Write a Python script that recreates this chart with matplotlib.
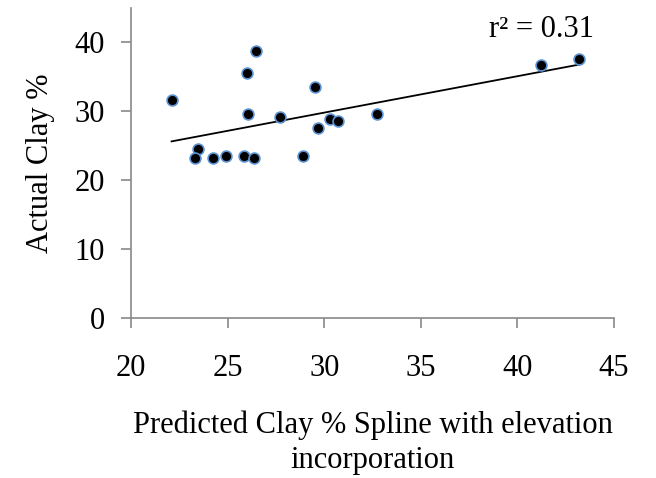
import matplotlib.pyplot as plt
import numpy as np

# predicted (spline w/ elevation) vs actual clay %
predicted = [22.1, 26.45, 26.0, 26.07, 27.7, 29.5, 29.7, 30.3, 30.7, 32.75,
             23.45, 23.3, 24.25, 24.9, 25.85, 26.35, 28.9, 41.2, 43.2]
actual = [31.6, 38.7, 35.6, 29.6, 29.2, 33.6, 27.6, 28.9, 28.6, 29.6,
          24.6, 23.2, 23.2, 23.5, 23.5, 23.2, 23.5, 36.7, 37.6]
r2_label = "r² = 0.31"

x = np.array(predicted)
y = np.array(actual)
slope, intercept = np.polyfit(x, y, 1)
xs = np.array([x.min(), x.max()])

plt.rcParams['font.family'] = ['Liberation Serif', 'DejaVu Serif']
fs = 22

fig = plt.figure(figsize=(6.56, 4.78), dpi=100)
ax = fig.add_axes([131/656, 1 - 318/478, (614 - 131)/656, (318 - 8)/478])

ax.plot(xs, slope*xs + intercept, color='black', lw=1.3, zorder=2)
ax.plot(x, y, 'o', ms=7.8, mfc='black', mec='#5b93d3', mew=1.2, zorder=3)

ax.set_xlim(20, 45)
ax.set_ylim(0, 45)
ax.set_xticks([20, 25, 30, 35, 40, 45])
ax.set_yticks([0, 10, 20, 30, 40])

for side in ['top', 'right']:
    ax.spines[side].set_visible(False)
for side in ['left', 'bottom']:
    ax.spines[side].set_color('#898989')
    ax.spines[side].set_linewidth(1.2)
ax.tick_params(colors='#898989', labelcolor='black', labelsize=fs, length=7, width=1.2)
ax.tick_params(axis='x', pad=19)
ax.tick_params(axis='y', pad=12)

ax.set_xlabel("Predicted Clay % Spline with elevation\nincorporation", fontsize=fs,
              labelpad=20, linespacing=1.25)
ax.set_ylabel("Actual Clay %", fontsize=fs, labelpad=14)
ax.text(38.55, 40.8, r2_label, fontsize=fs, va='baseline')

fig.savefig("out.png", dpi=100)
